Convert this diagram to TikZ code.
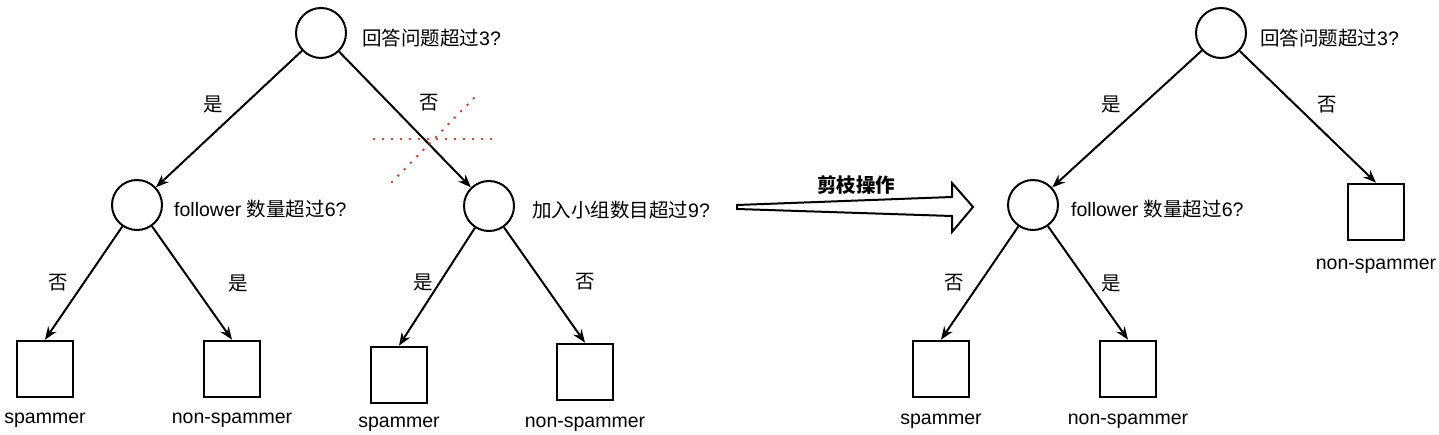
\documentclass[tikz,border=0pt]{standalone}
\usepackage{fontspec}
\setmainfont{Liberation Sans}
\newfontfamily\zh{Noto Sans CJK SC}
\usetikzlibrary{arrows.meta}
\definecolor{cutred}{RGB}{196,66,45}
\tikzset{
  test/.style={circle, draw, line width=2pt, minimum size=50pt, inner sep=0pt},
  leaf/.style={rectangle, draw, line width=2.6pt, minimum size=56pt, inner sep=0pt},
  txt/.style={font=\fontsize{19.5}{23}\selectfont, inner sep=0pt},
  branch/.style={-{Stealth[length=13pt,width=10pt]}, line width=2pt},
  cut/.style={cutred, line width=2.8pt, dash pattern=on 0pt off 9pt, line cap=round}
}
\begin{document}
\begin{tikzpicture}[x=1pt,y=-1pt]
  \useasboundingbox (0,0) rectangle (1439,435);
  % before pruning
  \node[test] (root) at (321,33) {};
  \node[test] (fol) at (137,205) {};
  \node[test] (grp) at (489,206) {};
  \node[leaf] (sp1) at (45,369) {};
  \node[leaf] (ns1) at (232,369) {};
  \node[leaf] (sp2) at (399,375) {};
  \node[leaf] (ns2) at (585,372) {};
  \node[txt, anchor=west] (qroot) at (362,38) {{\zh 回答问题超过}3?};
  \node[txt, anchor=west] (qfol) at (174,209) {follower {\zh 数量超过}6?};
  \node[txt, anchor=west] (qgrp) at (532,210) {{\zh 加入小组数目超过}9?};
  \node[txt] (tsp1) at (45,420) {spammer};
  \node[txt] (tns1) at (232,420) {non-spammer};
  \node[txt] (tsp2) at (399,424) {spammer};
  \node[txt] (tns2) at (585,424) {non-spammer};
  \node[txt] (ya) at (213,105) {\zh 是};
  \node[txt] (na) at (429,103) {\zh 否};
  \node[txt] (nb) at (58,283) {\zh 否};
  \node[txt] (yb) at (238,283) {\zh 是};
  \node[txt] (yc) at (423,282) {\zh 是};
  \node[txt] (nc) at (585,282) {\zh 否};
  \draw[branch] (root) -- (fol);
  \draw[branch] (root) -- (grp);
  \draw[branch] (fol) -- (sp1.north);
  \draw[branch] (fol) -- (ns1.north);
  \draw[branch] (grp) -- (sp2.north);
  \draw[branch] (grp) -- (ns2.north);
  \draw[cut] (374,139) -- (492,139);
  \draw[cut] (392,182) -- (475,97);
  % pruning arrow
  \draw[line width=2pt, line join=miter] (737,205) -- (952,197) -- (952,183) -- (973,207)
    -- (952,232) -- (952,216) -- (737,209) -- cycle;
  \node[txt, font=\fontsize{19.5}{23}\selectfont\bfseries] (op) at (856,185) {\zh 剪枝操作};
  % after pruning
  \node[test] (rroot) at (1221,33) {};
  \node[test] (rfol) at (1033,205) {};
  \node[leaf] (rsp) at (941,369) {};
  \node[leaf] (rns1) at (1128,369) {};
  \node[leaf] (rns2) at (1376,212) {};
  \node[txt, anchor=west] (rqroot) at (1260,38) {{\zh 回答问题超过}3?};
  \node[txt, anchor=west] (rqfol) at (1071,209) {follower {\zh 数量超过}6?};
  \node[txt] (trsp) at (941,421) {spammer};
  \node[txt] (trns1) at (1128,421) {non-spammer};
  \node[txt] (trns2) at (1376,266) {non-spammer};
  \node[txt] (rya) at (1111,105) {\zh 是};
  \node[txt] (rna) at (1327,105) {\zh 否};
  \node[txt] (rnb) at (954,283) {\zh 否};
  \node[txt] (ryb) at (1111,283) {\zh 是};
  \draw[branch] (rroot) -- (rfol);
  \draw[branch] (rroot) -- (rns2.north);
  \draw[branch] (rfol) -- (rsp.north);
  \draw[branch] (rfol) -- (rns1.north);
\end{tikzpicture}
\end{document}
